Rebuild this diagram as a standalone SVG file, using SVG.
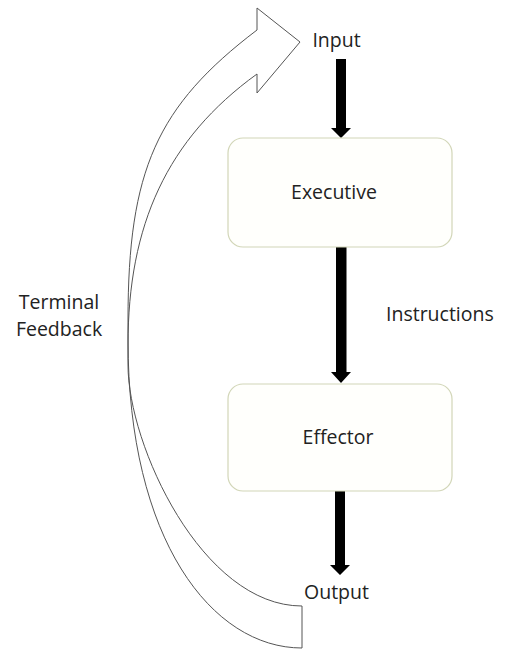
<svg xmlns="http://www.w3.org/2000/svg" width="505" height="651" viewBox="0 0 505 651">
<defs>
<style>
.box{fill:#fffffc;stroke:#d2d6b8;stroke-width:1.2}
.lbl{font-family:"Open Sans","Liberation Sans",sans-serif;font-size:19.5px;fill:#222}
.shaft{fill:#000}
.fb{fill:#fff;stroke:#555;stroke-width:1}
</style>
</defs>
<rect width="505" height="651" fill="#fff"/>
<g id="feedback">
<path class="fb" d="M257,30 C157,106 128,170 128,320 L128,340 C128,540 212,648 302,648 L302,606 C202,606 128,445 128,365 L128,345 C128,225 167,139 257,74 L257,93 L300,42 L257,8 Z"/>
</g>
<g id="connectors">
<polygon class="shaft" points="336,59 346,59 346,128 351,128 341,138 331,128 336,128"/>
<polygon class="shaft" points="336,247 346.5,247 346.5,372 351,372 341,383 331,372 336,372"/>
<polygon class="shaft" points="335,491 345,491 345,565 350,565 340,575 330,565 335,565"/>
</g>
<g id="input"><text class="lbl" x="336.5" y="47" text-anchor="middle">Input</text></g>
<g id="executive">
<rect class="box" x="228" y="138" width="224" height="109" rx="15"/>
<text class="lbl" x="334" y="198.5" text-anchor="middle">Executive</text>
</g>
<g id="instructions"><text class="lbl" x="386" y="321">Instructions</text></g>
<g id="effector">
<rect class="box" x="228" y="384" width="224" height="107" rx="15"/>
<text class="lbl" x="338" y="444" text-anchor="middle">Effector</text>
</g>
<g id="output"><text class="lbl" x="336.5" y="599" text-anchor="middle">Output</text></g>
<g id="terminal-feedback">
<text class="lbl" x="59" y="309" text-anchor="middle">Terminal</text>
<text class="lbl" x="59" y="336" text-anchor="middle">Feedback</text>
</g>
</svg>
